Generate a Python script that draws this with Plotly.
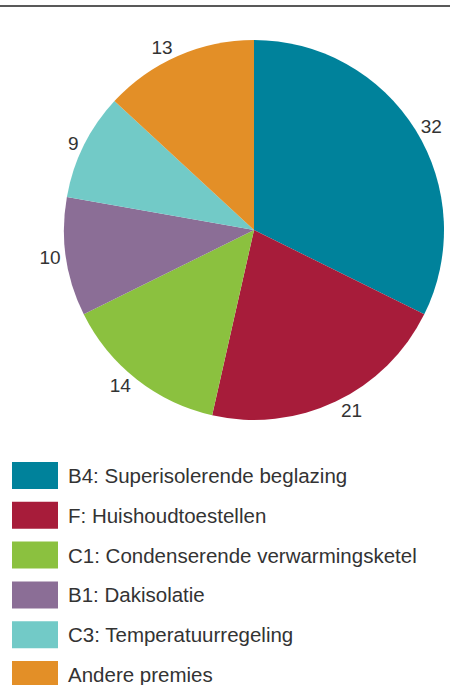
import plotly.graph_objects as go

labels = ["B4: Superisolerende beglazing", "F: Huishoudtoestellen",
          "C1: Condenserende verwarmingsketel", "B1: Dakisolatie",
          "C3: Temperatuurregeling", "Andere premies"]
values = [32, 21, 14, 10, 9, 13]
colors = ["#00829B", "#A71C3A", "#8BC13F", "#8B6E96", "#72CAC7", "#E38F27"]

W, H = 450, 685
FONT = "Liberation Sans"
fig = go.Figure()
fig.add_trace(go.Pie(
    labels=labels, values=values, sort=False, direction="clockwise", rotation=0,
    marker=dict(colors=colors, line=dict(width=0)),
    textinfo="value", textposition="outside",
    textfont=dict(family=FONT, size=19, color="#333333"),
    showlegend=False, hoverinfo="label+value",
    domain=dict(x=[64/W, 444/W], y=[1-420/H, 1-40/H]),
))

shapes = [dict(type="line", xref="paper", yref="paper", x0=0, x1=1,
               y0=1-6/H, y1=1-6/H, layer="above",
               line=dict(color="#222222", width=1.5))]
annotations = []
for i, (lab, col) in enumerate(zip(labels, colors)):
    yc = 475.5 + i*39.8
    shapes.append(dict(type="rect", xref="paper", yref="paper",
                       x0=12/W, x1=58/W, y0=1-(yc+13.5)/H, y1=1-(yc-13.5)/H,
                       fillcolor=col, line=dict(width=0)))
    annotations.append(dict(xref="paper", yref="paper", x=66/W, y=1-yc/H,
                            text=lab, showarrow=False, xanchor="left", yanchor="middle",
                            font=dict(family=FONT, size=20.5, color="#333333")))

fig.update_layout(width=W, height=H, margin=dict(l=0, r=0, t=0, b=0),
                  paper_bgcolor="white", plot_bgcolor="white",
                  shapes=shapes, annotations=annotations)
fig.write_html("out.html", config={"displayModeBar": False},
               post_script="document.body.style.margin='0';")
